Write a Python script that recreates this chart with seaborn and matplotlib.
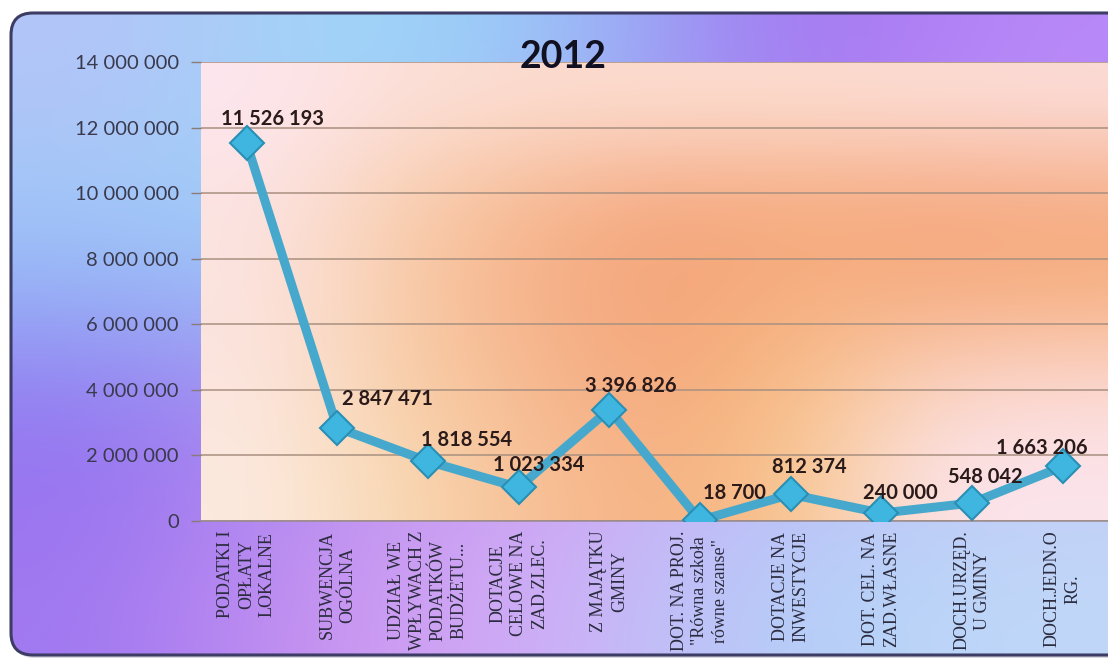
import numpy as np
import pandas as pd
import matplotlib
matplotlib.use("Agg")
import matplotlib.pyplot as plt
from matplotlib.colors import to_rgb
from matplotlib.patches import FancyBboxPatch
import seaborn as sns

# ---- data ----
categories = [
    "PODATKI I\nOPŁATY\nLOKALNE",
    "SUBWENCJA\nOGÓLNA",
    "UDZIAŁ WE\nWPŁYWACH Z\nPODATKÓW\nBUDŻETU...",
    "DOTACJE\nCELOWE NA\nZAD.ZLEC.",
    "Z MAJĄTKU\nGMINY",
    "DOT. NA PROJ.\n\"Równa szkoła\nrówne szanse\"",
    "DOTACJE NA\nINWESTYCJE",
    "DOT. CEL. NA\nZAD.WŁASNE",
    "DOCH.URZĘD.\nU GMINY",
    "DOCH.JEDN.O\nRG.",
]
values = [11526193, 2847471, 1818554, 1023334, 3396826,
          18700, 812374, 240000, 548042, 1663206]
y_ticks = [0, 2000000, 4000000, 6000000, 8000000, 10000000, 12000000, 14000000]
title = "2012"

# label offsets in pixels (dx, dy) relative to each point
label_offsets = [(26, 24), (50, 29), (39, 21), (20, 22), (22, 24),
                 (35, 27), (19, 27), (19, 20), (13, 26), (-21, 18)]


def fmt(v):
    return f"{v:,}".replace(",", " ")


W, H, DPI = 1108, 660, 100
sns.set_theme(style="white")
plt.rcParams["font.family"] = ["Lato", "DejaVu Sans"]

fig = plt.figure(figsize=(W / DPI, H / DPI), dpi=DPI)
fig.patch.set_facecolor("white")

# ---- outer rounded frame with gradient fill ----
bg = fig.add_axes([0, 0, 1, 1], zorder=0)
bg.set_xlim(0, W)
bg.set_ylim(H, 0)
bg.axis("off")


def grid_img(rows):
    return np.array([[to_rgb(c) for c in r] for r in rows])


outer = grid_img([
    ["#b4c4f8", "#a0d8f8", "#98c8f8", "#a070f0", "#b888f8"],
    ["#98c8f8", "#a0d0f8", "#c0a0f0", "#b098f0", "#c0a0f0"],
    ["#9070f0", "#b090f0", "#d8a0f0", "#c0b8f8", "#c8c8f8"],
    ["#a078f0", "#d098f0", "#d0b0f8", "#b0d0f8", "#c0d8f8"],
])
box = dict(boxstyle="round,pad=0,rounding_size=22")
shadow = FancyBboxPatch((13, 16), W + 40, 642, facecolor="#9090a0", edgecolor="none",
                        alpha=0.35, transform=bg.transData, zorder=1, **box)
bg.add_patch(shadow)
im = bg.imshow(outer, extent=(11, W, 655, 13), interpolation="bicubic",
               aspect="auto", zorder=2)
clip = FancyBboxPatch((11, 13), W + 40, 642, transform=bg.transData,
                      facecolor="none", edgecolor="none", **box)
bg.add_patch(clip)
im.set_clip_path(clip)
frame = FancyBboxPatch((11, 13), W + 40, 642, facecolor="none", edgecolor="#3c3c64",
                       linewidth=2.2, transform=bg.transData, zorder=3, **box)
bg.add_patch(frame)

# ---- plot area ----
left_px, right_px, top_px, bot_px = 201, W, 62, 521
ax = fig.add_axes([left_px / W, 1 - bot_px / H, (right_px - left_px) / W,
                   (bot_px - top_px) / H], zorder=2)
ax.patch.set_alpha(0)

inner = grid_img([
    ["#fde6ee", "#fce0d8", "#fcdcd0", "#fcdcd0", "#fcdcd0", "#fcdcd4", "#fcdcd8"],
    ["#fce4e4", "#f9d0b0", "#f6b890", "#f5a880", "#f6ac80", "#f6a880", "#f6ac84"],
    ["#fce4e0", "#f8cca8", "#f6b088", "#f4a478", "#f6b080", "#f6ac80", "#f6b080"],
    ["#fce6e0", "#f8d0a8", "#f6b890", "#f5a87c", "#f8c088", "#fad4c4", "#fcd8d0"],
    ["#fceae0", "#f8d8b0", "#f8c098", "#f6b080", "#f8c890", "#fce4ec", "#fce4ec"],
])
x_lo, x_hi = -0.502, 9.39
ax.imshow(inner, extent=(x_lo, x_hi + 0.4, 0, 14000000), interpolation="bicubic",
          aspect="auto", zorder=0)

df = pd.DataFrame({"pos": np.arange(len(values)), "value": values})
sns.lineplot(data=df, x="pos", y="value", ax=ax, sort=False, color="#45a8cc",
             linewidth=6.5, marker="D", markersize=17, markerfacecolor="#3fb6e0",
             markeredgecolor="#2a8fb4", markeredgewidth=1.5, zorder=4)

ax.set_xlim(x_lo, x_hi)
ax.set_ylim(0, 14000000)
ax.set_yticks(y_ticks)
ax.set_yticklabels([fmt(v) for v in y_ticks], fontsize=14.5, color="#3a3a4e")
ax.set_xticks(np.arange(len(categories)))
ax.set_xticklabels(categories, rotation=90, ha="center", va="top",
                   multialignment="center", fontsize=13, linespacing=1.3,
                   color="#2c2c40", family=["Liberation Serif", "DejaVu Serif"])
ax.set_xticks(np.arange(len(categories) + 1) - 0.5, minor=True)
ax.tick_params(axis="x", which="major", length=0, pad=7)
ax.tick_params(axis="x", which="minor", length=5, color="#9a8a8a", width=1, direction="out")
ax.tick_params(axis="y", length=7, color="#8a7a7a", width=1, direction="out", pad=9, left=True)
ax.grid(axis="y", color="#a89080", linewidth=1.1, zorder=1)
ax.grid(axis="x", visible=False)
ax.set_axisbelow(True)
ax.set_xlabel("")
ax.set_ylabel("")
for side in ["top", "right", "left"]:
    ax.spines[side].set_visible(False)
ax.spines["bottom"].set_color("#9a8a8a")
ax.spines["bottom"].set_linewidth(1.1)

for i, (v, (dx, dy)) in enumerate(zip(values, label_offsets)):
    ax.annotate(fmt(v), xy=(i, v), xytext=(dx, dy), textcoords="offset pixels",
                ha="center", va="center", fontsize=14.5, fontweight="bold",
                color="#2a1a1a", zorder=6)

fig.text(563 / W, 1 - 57 / H, title, ha="center", va="center", fontsize=27,
         fontweight="bold", color="#101020", zorder=10)

fig.savefig("out.png", dpi=DPI)
